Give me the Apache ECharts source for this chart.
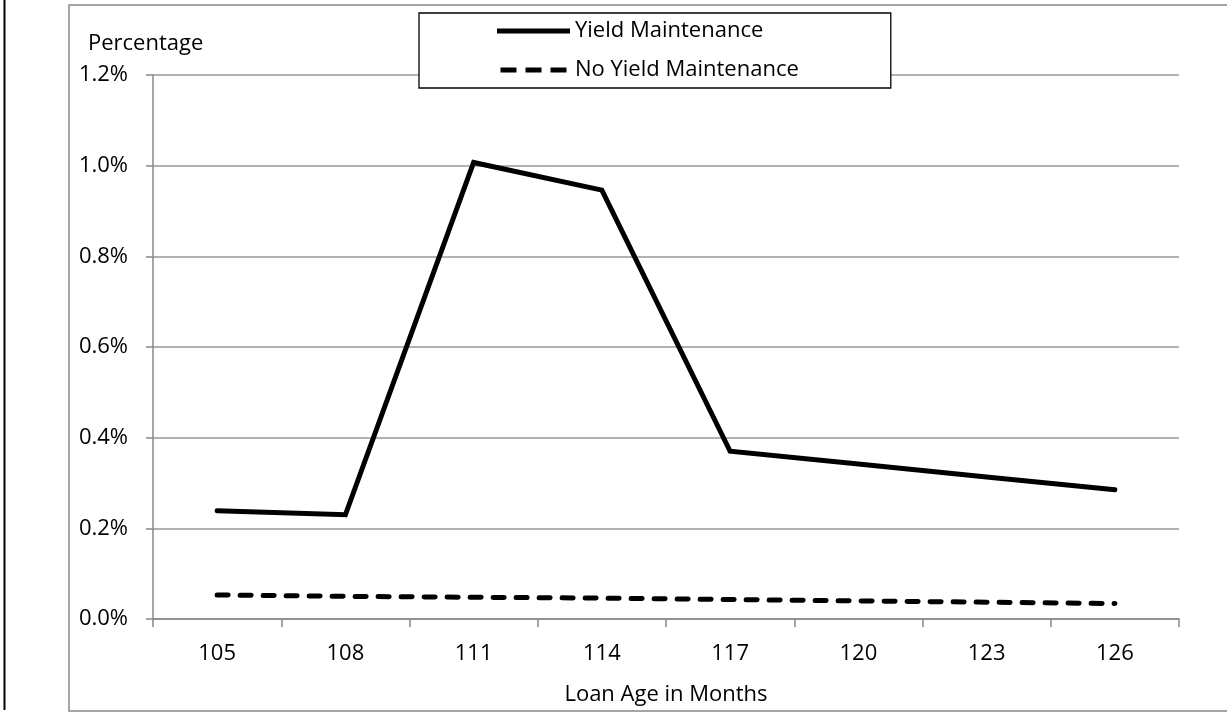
<!DOCTYPE html>
<html>
<head>
<meta charset="utf-8">
<script src="https://cdn.jsdelivr.net/npm/echarts@6/dist/echarts.min.js"></script>
<style>
html,body{margin:0;padding:0;background:#fff;}
#chart{width:1227px;height:713px;}
</style>
</head>
<body>
<div id="chart"></div>
<script>
var categories = ['105','108','111','114','117','120','123','126'];
var yieldMaintenance = [0.239, 0.230, 1.007, 0.946, 0.370, 0.342, 0.313, 0.285];
var noYieldMaintenance = [0.053, 0.050, 0.048, 0.046, 0.043, 0.040, 0.037, 0.034];
var yTicks = {min: 0, max: 1.2, interval: 0.2};

var FONT = '"Open Sans", sans-serif';
var FS = 22;
var solidIcon = 'path://M0,0 H73 V5 H0 Z';
var dashedIcon = 'path://M0,0 H16 V5 H0 Z M25,0 H41 V5 H25 Z M50,0 H66 V5 H50 Z';

var chart = echarts.init(document.getElementById('chart'), null, {renderer: 'canvas'});
chart.setOption({
  animation: false,
  backgroundColor: '#fff',
  graphic: [
    {type: 'rect', z: 0, silent: true,
     shape: {x: 69, y: 5, width: 1300, height: 706},
     style: {fill: 'none', stroke: '#888', lineWidth: 1.5}},
    {type: 'line', z: 0, silent: true,
     shape: {x1: 4.5, y1: 0, x2: 4.5, y2: 710},
     style: {stroke: '#000', lineWidth: 2}}
  ],
  grid: {left: 153, right: 48, top: 75, bottom: 94, containLabel: false},
  legend: {
    orient: 'vertical',
    left: 419, top: 13,
    padding: [5, 92, 5, 78],
    itemGap: 13,
    itemWidth: 73, itemHeight: 5,
    symbolKeepAspect: true,
    backgroundColor: '#fff',
    borderColor: '#000', borderWidth: 1.3,
    itemStyle: {color: '#000', borderWidth: 0},
    textStyle: {fontFamily: FONT, fontSize: FS, color: '#000', lineHeight: 26},
    data: [
      {name: 'Yield Maintenance', icon: solidIcon},
      {name: 'No Yield Maintenance', icon: dashedIcon}
    ]
  },
  xAxis: {
    type: 'category',
    data: categories,
    boundaryGap: true,
    name: 'Loan Age in Months',
    nameLocation: 'middle',
    nameGap: 65,
    nameTextStyle: {fontFamily: FONT, fontSize: FS, color: '#000'},
    axisLine: {show: true, lineStyle: {color: '#888', width: 1.5}},
    axisTick: {show: true, length: 8, alignWithLabel: false, lineStyle: {color: '#888', width: 1.5}},
    axisLabel: {fontFamily: FONT, fontSize: FS, color: '#000', margin: 24},
    splitLine: {show: false}
  },
  yAxis: {
    type: 'value',
    min: yTicks.min, max: yTicks.max, interval: yTicks.interval,
    name: 'Percentage',
    nameLocation: 'end',
    nameGap: 20,
    nameTextStyle: {fontFamily: FONT, fontSize: FS, color: '#000', align: 'left', padding: [0, 0, 0, -65]},
    axisLine: {show: true, lineStyle: {color: '#888', width: 1.5}},
    axisTick: {show: true, length: 7, lineStyle: {color: '#888', width: 1.5}},
    axisLabel: {fontFamily: FONT, fontSize: FS, color: '#000', margin: 25,
      formatter: function (v) { return v.toFixed(1) + '%'; }},
    splitLine: {show: true, lineStyle: {color: '#999', width: 1.5}}
  },
  series: [
    {
      name: 'Yield Maintenance',
      type: 'line',
      data: yieldMaintenance,
      showSymbol: false, symbol: 'none',
      itemStyle: {color: '#000'},
      lineStyle: {color: '#000', width: 5, type: 'solid', cap: 'round', join: 'miter'},
      z: 3
    },
    {
      name: 'No Yield Maintenance',
      type: 'line',
      data: noYieldMaintenance,
      showSymbol: false, symbol: 'none',
      itemStyle: {color: '#000'},
      lineStyle: {color: '#000', width: 5, type: [11, 12], cap: 'round', join: 'miter'},
      z: 3
    }
  ]
});
</script>
</body>
</html>
